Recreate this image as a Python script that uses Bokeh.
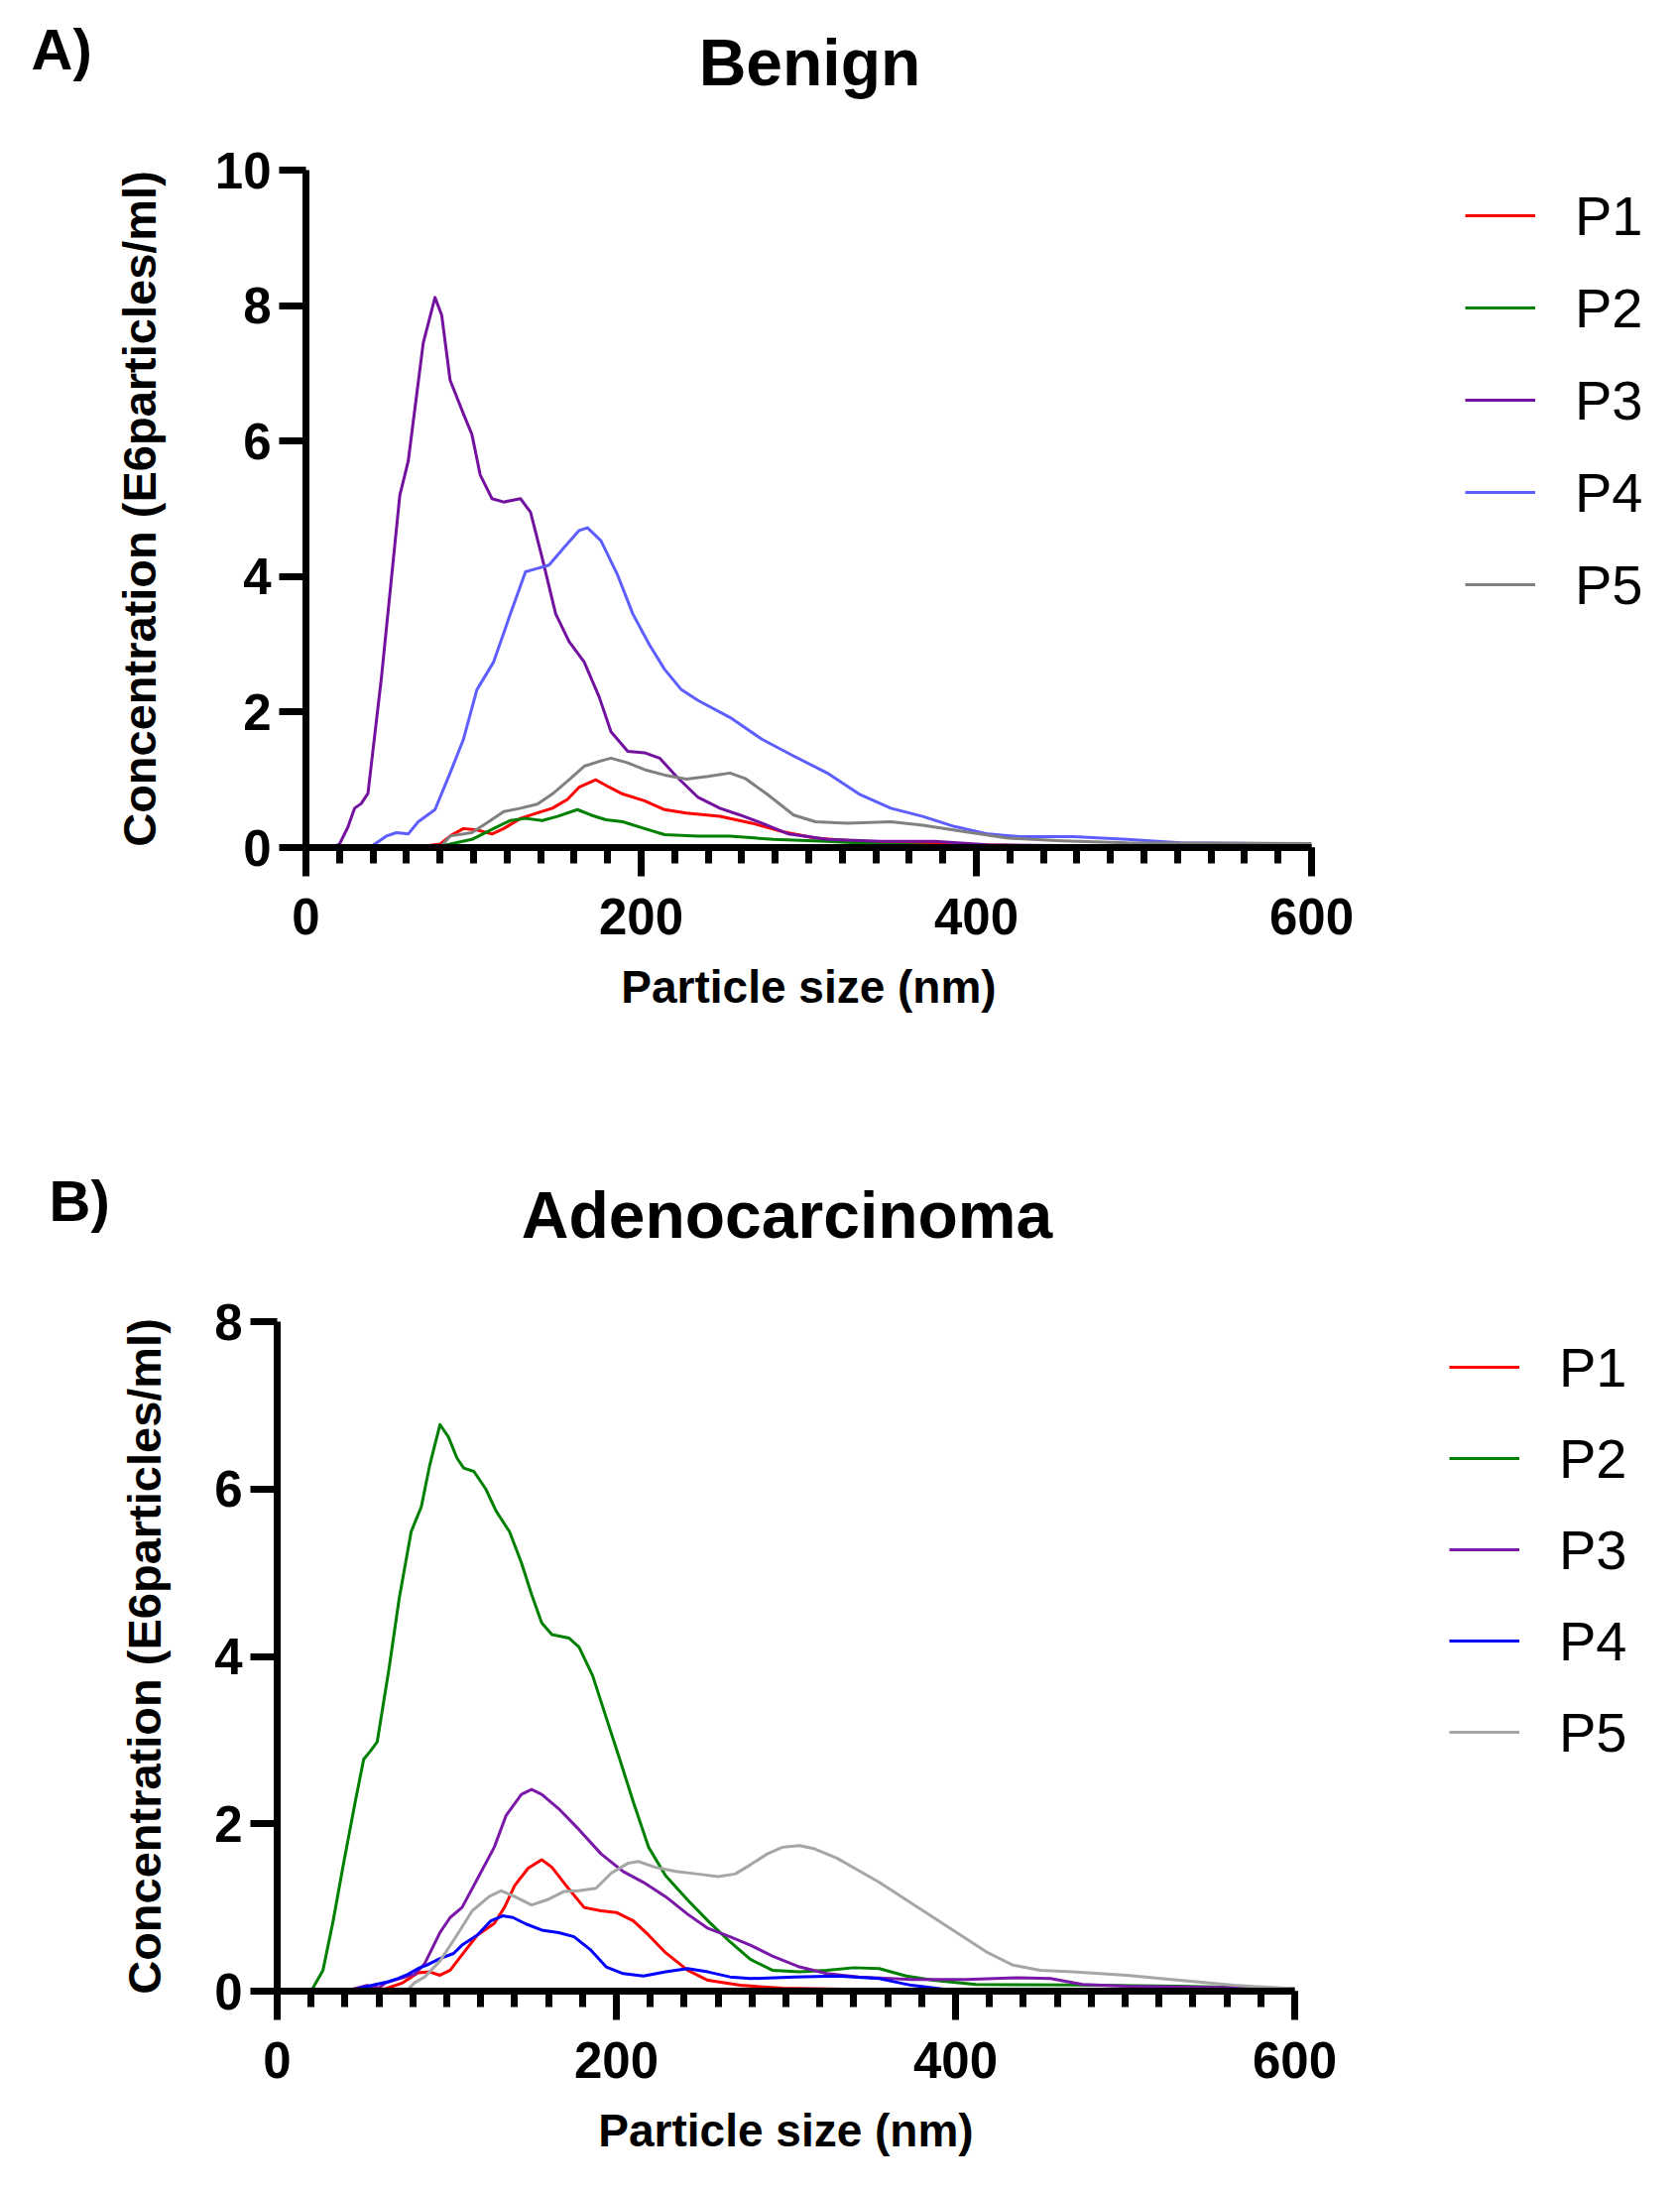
from bokeh.plotting import figure
from bokeh.models import Range1d, FixedTicker, Label, Legend, LegendItem
from bokeh.embed import file_html
from bokeh.resources import INLINE

# ---------------- data: panel A (Benign) ----------------
series_names = ["P1", "P2", "P3", "P4", "P5"]

a_p1_x = [0, 40, 60, 70, 80, 86, 94, 102, 111, 118, 128, 138, 147, 156, 163, 173, 181, 189, 202, 214, 227, 247, 266, 285, 304, 330, 362, 394, 458, 600]
a_p1_y = [0, 0.01, 0.03, 0.02, 0.05, 0.17, 0.28, 0.26, 0.2, 0.28, 0.43, 0.51, 0.58, 0.71, 0.89, 1.0, 0.89, 0.79, 0.69, 0.56, 0.51, 0.46, 0.36, 0.23, 0.14, 0.09, 0.07, 0.04, 0.02, 0.01]

a_p2_x = [0, 60, 80, 99, 112, 122, 131, 141, 150, 162, 170, 179, 189, 202, 214, 234, 253, 279, 311, 343, 394, 600]
a_p2_y = [0, 0, 0.02, 0.12, 0.28, 0.4, 0.43, 0.4, 0.46, 0.56, 0.48, 0.41, 0.38, 0.28, 0.19, 0.17, 0.17, 0.12, 0.09, 0.05, 0.02, 0.01]

a_p3_x = [0, 15, 20, 25, 29, 33, 37, 45, 56, 61, 70, 77, 81, 86, 94, 99, 104, 111, 118, 128, 134, 141, 149, 157, 166, 175, 182, 192, 202, 211, 221, 234, 247, 259, 272, 288, 311, 343, 375, 407, 450, 500, 600]
a_p3_y = [0, 0, 0.05, 0.3, 0.58, 0.65, 0.8, 2.5, 5.2, 5.7, 7.45, 8.12, 7.86, 6.9, 6.4, 6.1, 5.5, 5.15, 5.1, 5.15, 4.95, 4.27, 3.45, 3.04, 2.74, 2.22, 1.71, 1.42, 1.4, 1.32, 1.05, 0.74, 0.58, 0.48, 0.36, 0.2, 0.12, 0.09, 0.09, 0.04, 0.03, 0.02, 0.02]

a_p4_x = [0, 38, 48, 54, 61, 67, 77, 86, 94, 102, 112, 122, 131, 138, 145, 154, 163, 168, 176, 186, 195, 205, 214, 224, 234, 253, 272, 291, 311, 330, 349, 368, 387, 407, 426, 458, 490, 522, 600]
a_p4_y = [0, 0, 0.17, 0.22, 0.2, 0.38, 0.56, 1.1, 1.6, 2.33, 2.74, 3.45, 4.07, 4.12, 4.17, 4.43, 4.68, 4.72, 4.53, 4.02, 3.45, 2.99, 2.63, 2.33, 2.17, 1.92, 1.6, 1.35, 1.1, 0.79, 0.58, 0.46, 0.31, 0.2, 0.16, 0.16, 0.12, 0.07, 0.05]

a_p5_x = [0, 80, 86, 99, 109, 118, 128, 138, 147, 157, 166, 176, 182, 192, 202, 214, 227, 240, 253, 262, 275, 291, 304, 323, 349, 368, 394, 419, 451, 490, 600]
a_p5_y = [0, 0, 0.17, 0.22, 0.38, 0.53, 0.58, 0.64, 0.79, 1.0, 1.2, 1.28, 1.32, 1.25, 1.15, 1.07, 1.01, 1.05, 1.1, 1.02, 0.79, 0.48, 0.38, 0.36, 0.38, 0.33, 0.23, 0.14, 0.1, 0.07, 0.06]

# ---------------- data: panel B (Adenocarcinoma) ----------------
b_p1_x = [0, 50, 64, 74, 83, 90, 96, 102, 110, 118, 128, 134, 140, 148, 156, 162, 172, 181, 191, 200, 210, 219, 229, 242, 254, 273, 298, 343, 600]
b_p1_y = [0, 0.0, 0.03, 0.1, 0.22, 0.23, 0.19, 0.25, 0.46, 0.67, 0.81, 1.0, 1.26, 1.47, 1.57, 1.48, 1.22, 1.0, 0.96, 0.94, 0.84, 0.67, 0.46, 0.25, 0.13, 0.07, 0.035, 0.02, 0.0]

b_p2_x = [0, 20, 27, 33, 39, 46, 51, 55, 59, 66, 72, 79, 85, 90, 96, 101, 106, 110, 116, 123, 129, 137, 144, 150, 156, 162, 172, 178, 186, 194, 202, 210, 219, 229, 242, 254, 267, 279, 292, 308, 324, 340, 355, 371, 387, 412, 469, 532, 600]
b_p2_y = [0, 0, 0.25, 0.84, 1.51, 2.26, 2.77, 2.87, 2.98, 3.86, 4.7, 5.49, 5.79, 6.29, 6.77, 6.62, 6.37, 6.25, 6.21, 6.0, 5.74, 5.49, 5.12, 4.74, 4.4, 4.26, 4.22, 4.11, 3.77, 3.27, 2.77, 2.26, 1.72, 1.38, 1.09, 0.84, 0.59, 0.38, 0.25, 0.23, 0.25, 0.28, 0.27, 0.18, 0.13, 0.08, 0.075, 0.06, 0.03]

b_p3_x = [0, 40, 53, 60, 64, 77, 81, 87, 96, 102, 109, 118, 128, 135, 144, 150, 156, 166, 178, 191, 204, 216, 229, 242, 254, 267, 279, 292, 308, 324, 343, 374, 406, 437, 456, 475, 501, 600]
b_p3_y = [0, 0, 0.07, 0.04, 0.1, 0.18, 0.2, 0.33, 0.7, 0.88, 1.0, 1.34, 1.72, 2.1, 2.35, 2.41, 2.35, 2.18, 1.93, 1.64, 1.43, 1.3, 1.13, 0.92, 0.75, 0.65, 0.55, 0.42, 0.29, 0.21, 0.17, 0.14, 0.14, 0.16, 0.15, 0.08, 0.06, 0.03]

b_p4_x = [0, 46, 58, 65, 71, 77, 83, 88, 96, 104, 109, 118, 126, 133, 139, 147, 156, 166, 175, 185, 194, 204, 216, 229, 242, 254, 267, 279, 305, 330, 355, 374, 393, 437, 600]
b_p4_y = [0, 0.02, 0.08, 0.11, 0.15, 0.2, 0.27, 0.31, 0.39, 0.45, 0.55, 0.67, 0.84, 0.9, 0.88, 0.8, 0.73, 0.7, 0.65, 0.49, 0.29, 0.21, 0.18, 0.23, 0.27, 0.23, 0.17, 0.15, 0.17, 0.18, 0.15, 0.07, 0.025, 0.01, 0.005]

b_p5_x = [0, 77, 81, 87, 96, 106, 115, 125, 132, 140, 150, 159, 169, 178, 188, 197, 207, 213, 223, 235, 248, 260, 270, 279, 289, 298, 308, 317, 330, 343, 355, 371, 387, 403, 419, 434, 450, 469, 501, 532, 564, 600]
b_p5_y = [0, 0.02, 0.1, 0.17, 0.36, 0.67, 0.96, 1.13, 1.2, 1.13, 1.03, 1.09, 1.19, 1.2, 1.23, 1.41, 1.53, 1.55, 1.48, 1.43, 1.4, 1.37, 1.4, 1.51, 1.64, 1.72, 1.74, 1.7, 1.59, 1.44, 1.3, 1.09, 0.88, 0.67, 0.46, 0.31, 0.25, 0.23, 0.19, 0.13, 0.07, 0.03]

colors_a = ["#FF0000", "#008000", "#7412A0", "#5E5EFF", "#808080"]
colors_b = ["#FF0000", "#008000", "#7A18A8", "#0000FF", "#A6A6A6"]

x_major = [0, 200, 400, 600]
x_minor = list(range(0, 601, 20))
a_y_ticks = [0, 2, 4, 6, 8, 10]
b_y_ticks = [0, 2, 4, 6, 8]

FONT = "Liberation Sans"
PAGE_W = 1694


def make_header(height, tag, tag_xy, title, title_xy):
    h = figure(frame_width=PAGE_W, frame_height=height,
               min_border_left=0, min_border_right=0, min_border_top=0, min_border_bottom=0,
               x_range=Range1d(0, PAGE_W), y_range=Range1d(height, 0),
               x_axis_location=None, y_axis_location=None,
               output_backend="svg", toolbar_location=None)
    h.outline_line_color = None
    h.xgrid.visible = False
    h.ygrid.visible = False
    h.add_layout(Label(x=tag_xy[0], y=tag_xy[1], text=tag,
                       text_font=FONT, text_font_style="bold", text_font_size="58px",
                       text_align="left", text_baseline="middle", text_color="black"))
    h.add_layout(Label(x=title_xy[0], y=title_xy[1], text=title,
                       text_font=FONT, text_font_style="bold", text_font_size="66px",
                       text_align="center", text_baseline="middle", text_color="black"))
    return h


def make_panel(xs, ys, colors, ymax, yticks, geom):
    fw, fh, bl, br, bt, bb = geom["frame"]
    p = figure(frame_width=fw, frame_height=fh,
               min_border_left=bl, min_border_right=br,
               min_border_top=bt, min_border_bottom=bb,
               x_range=Range1d(0, 600), y_range=Range1d(0, ymax),
               output_backend="svg", toolbar_location=None)
    p.outline_line_color = None
    p.xgrid.visible = False
    p.ygrid.visible = False

    renderers = []
    for x, y, c in zip(xs, ys, colors):
        renderers.append(p.line(x, y, line_color=c, line_width=3, line_join="round"))

    for ax in (p.xaxis[0], p.yaxis[0]):
        ax.axis_line_width = 7
        ax.axis_line_color = "black"
        ax.major_tick_line_width = 7
        ax.minor_tick_line_width = 7
        ax.major_tick_in = 0
        ax.minor_tick_in = 0
        ax.major_label_text_font = FONT
        ax.major_label_text_font_style = "bold"
        ax.major_label_text_font_size = "51px"
        ax.major_label_text_color = "black"
        ax.axis_label_text_font = FONT
        ax.axis_label_text_font_style = "bold"
        ax.axis_label_text_color = "black"

    xa = p.xaxis[0]
    xa.ticker = FixedTicker(ticks=x_major, minor_ticks=x_minor)
    xa.major_tick_out = 29
    xa.minor_tick_out = 16
    xa.major_label_standoff = 22
    xa.axis_label = "Particle size (nm)"
    xa.axis_label_text_font_size = "46px"
    xa.axis_label_standoff = 24

    ya = p.yaxis[0]
    ya.ticker = FixedTicker(ticks=yticks, minor_ticks=[])
    ya.major_tick_out = 27
    ya.minor_tick_out = 0
    ya.major_label_standoff = 8
    ya.axis_label = "Concentration (E6particles/ml)"
    ya.axis_label_text_font_size = "47px"
    ya.axis_label_standoff = geom["ylab_standoff"]

    legend = Legend(items=[LegendItem(label=n, renderers=[r]) for n, r in zip(series_names, renderers)],
                    location=geom["legend"], orientation="vertical",
                    glyph_width=71, glyph_height=70, label_height=70,
                    spacing=geom["spacing"], label_standoff=40, padding=0, margin=0,
                    border_line_color=None, background_fill_alpha=0,
                    label_text_font=FONT, label_text_font_size="56px",
                    label_text_color="black", label_text_baseline="middle")
    p.add_layout(legend, "right")
    return p


# panel A: header rows 0..140, plot rows 140..1100
header_a = make_header(140, "A)", (31, 49), "Benign", (816, 62))
main_a = make_panel([a_p1_x, a_p2_x, a_p3_x, a_p4_x, a_p5_x],
                    [a_p1_y, a_p2_y, a_p3_y, a_p4_y, a_p5_y],
                    colors_a, 10, a_y_ticks,
                    {"frame": (1014, 683, 308, 372, 31, 246), "ylab_standoff": 47,
                     "legend": (155, 230), "spacing": 23})

# panel B: header rows 1100..1300, plot rows 1300..2211
header_b = make_header(200, "B)", (49, 110), "Adenocarcinoma", (793, 124))
main_b = make_panel([b_p1_x, b_p2_x, b_p3_x, b_p4_x, b_p5_x],
                    [b_p1_y, b_p2_y, b_p3_y, b_p4_y, b_p5_y],
                    colors_b, 8, b_y_ticks,
                    {"frame": (1026, 675, 279, 389, 32, 204), "ylab_standoff": 41,
                     "legend": (156, 226), "spacing": 22})

open("out.html", "w").write(file_html([header_a, main_a, header_b, main_b], INLINE))
